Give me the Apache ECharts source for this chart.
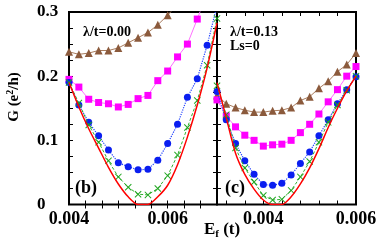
<!DOCTYPE html>
<html><head><meta charset="utf-8">
<script src="https://cdn.jsdelivr.net/npm/echarts@6/dist/echarts.min.js"></script>
<style>html,body{margin:0;padding:0;background:#fff}#c{width:382px;height:245px}</style>
</head><body><div id="c"></div>
<script>
// Panel (b): lambda/t = 0.00
const xLeft = [0.004,0.0042,0.0044,0.0046,0.0048,0.005,0.0052,0.0054,0.0056,0.0058,0.006,0.0062,0.0064,0.0066,0.0068,0.007];
const bBrown   = [0.238,0.234,0.236,0.240,0.240,0.244,0.252,0.260,0.268,0.280,0.295,0.312,null,null,null,null];
const bMagenta = [0.195,0.183,0.164,0.159,0.157,0.152,0.156,0.165,0.170,0.193,0.208,0.230,0.250,0.289,0.330,null];
const bBlue    = [0.190,0.155,0.128,0.107,0.085,0.065,0.059,0.054,0.055,0.069,0.095,0.125,0.167,0.196,0.248,0.310];
const bGreen   = [0.190,0.158,0.124,0.097,0.068,0.043,0.027,0.016,0.015,0.025,0.045,0.077,0.120,0.162,0.217,0.290];
const bRed     = [0.190,0.152,0.118,0.088,0.058,0.032,0.012,0.000,0.000,0.012,0.030,0.062,0.105,0.155,0.213,0.283];
// Panel (c): lambda/t = 0.13, Ls = 0
const xRight = [0.003,0.0032,0.0034,0.0036,0.0038,0.004,0.0042,0.0044,0.0046,0.0048,0.005,0.0052,0.0054,0.0056,0.0058,0.006];
const cBrown   = [0.170,0.157,0.151,0.147,0.144,0.144,0.146,0.147,0.151,0.162,0.168,0.181,0.192,0.207,0.218,0.236];
const cMagenta = [0.163,0.138,0.121,0.108,0.100,0.091,0.093,0.094,0.100,0.112,0.125,0.141,0.160,0.179,0.200,0.215];
const cBlue    = [0.176,0.132,0.095,0.068,0.047,0.031,0.030,0.033,0.046,0.064,0.082,0.107,0.132,0.157,0.179,0.199];
const cGreen   = [0.185,0.140,0.088,0.057,0.035,0.014,0.007,0.008,0.022,0.043,0.067,0.097,0.128,0.155,0.178,0.200];
const cRed     = [0.190,0.135,0.080,0.047,0.024,0.007,0.000,0.000,0.012,0.032,0.057,0.087,0.120,0.150,0.177,0.200];
// Tick labels
const yTicks = [0, 0.1, 0.2, 0.3];
const xLabelsLeft = [0.004, 0.006];
const xLabelsRight = [0.004, 0.006];
const xMinorLeft = [0.004333,0.004667,0.005,0.005333,0.005667,0.006,0.006333,0.006667];
const xMinorRight = [0.0032,0.0036,0.004,0.0044,0.0048,0.0052,0.0056];
const yMinor = [0.025,0.05,0.075,0.1,0.125,0.15,0.175,0.2,0.225,0.25,0.275];

const FONT = 'Liberation Serif';
const pair = (xs, ys) => xs.map((x, i) => [x, ys[i]]);
const XSYM = 'path://M0,1L1,0L5,4L9,0L10,1L6,5L10,9L9,10L5,6L1,10L0,9L4,5Z';

const styles = [
  {sym:'triangle', size:8, color:'#8B5A3C', line:'#A87C5E', type:'solid', w:1, smooth:false},
  {sym:'rect', size:7, color:'#FF00FF', line:'#FF70FF', type:'solid', w:1, smooth:false},
  {sym:'circle', size:7, color:'#0A1EF0', line:'#2040FF', type:'dotted', w:1.2, smooth:false},
  {sym:XSYM, size:7, color:'#1FA51F', line:'#30B030', type:[3,2], w:1, smooth:false},
  {sym:'none', size:0, color:'#FF0000', line:'#FF0000', type:'solid', w:1.5, smooth:0.25}
];
const leftData = [bBrown,bMagenta,bBlue,bGreen,bRed];
const rightData = [cBrown,cMagenta,cBlue,cGreen,cRed];

const series = [];
function addSeries(xs, datas, xi, yi) {
  datas.forEach((d, k) => {
    const s = styles[k];
    series.push({
      type:'line', xAxisIndex:xi, yAxisIndex:yi, data: pair(xs, d),
      symbol: s.sym, symbolSize: s.size, showSymbol: s.sym !== 'none', smooth: s.smooth,
      itemStyle:{color:s.color}, lineStyle:{color:s.line, type:s.type, width:s.w},
      connectNulls:false, clip:true, z: 2 + k
    });
  });
}
addSeries(xLeft, leftData, 0, 0);
addSeries(xRight, rightData, 2, 2);

const tickStyle = {show:true, inside:true, length:4, lineStyle:{color:'#000', width:1}};
const labelFont = {fontFamily:FONT, fontWeight:'bold', color:'#000'};

function xAx(grid, min, max, pos, labels, minor) {
  return {
    type:'value', gridIndex:grid, min:min, max:max, position:pos,
    axisLine:{show:false}, splitLine:{show:false},
    axisTick:Object.assign({}, tickStyle, {customValues: minor}),
    axisLabel: labels ? Object.assign({}, labelFont, {fontSize:18, customValues: labels, margin:6,
      hideOverlap:false, formatter: v => v.toFixed(3)}) : {show:false}
  };
}
function yAx(grid, pos, withLabels) {
  return {
    type:'value', gridIndex:grid, min:0, max:0.3, interval:0.1, position:pos,
    axisLine:{show:false}, splitLine:{show:false},
    axisTick:Object.assign({}, tickStyle, {customValues: yMinor}),
    axisLabel: withLabels ? Object.assign({}, labelFont, {fontSize:17, customValues: yTicks, align:'left', margin:32,
      formatter: v => (v === 0 ? '0' : v.toFixed(1))}) : {show:false}
  };
}

const chart = echarts.init(document.getElementById('c'), null, {renderer:'canvas'});
chart.setOption({
  animation:false,
  backgroundColor:'#fff',
  grid:[
    {left:69, top:12, width:148, height:192.5, show:true, borderColor:'#000', borderWidth:2, backgroundColor:'transparent', containLabel:false, outerBoundsMode:'none'},
    {left:217, top:12, width:139, height:192.5, show:true, borderColor:'#000', borderWidth:2, backgroundColor:'transparent', containLabel:false, outerBoundsMode:'none'}
  ],
  xAxis:[
    xAx(0, 0.004, 0.007, 'bottom', xLabelsLeft, xMinorLeft),
    xAx(0, 0.004, 0.007, 'top', null, xMinorLeft),
    xAx(1, 0.003, 0.006, 'bottom', xLabelsRight, xMinorRight),
    xAx(1, 0.003, 0.006, 'top', null, xMinorRight)
  ],
  yAxis:[
    yAx(0, 'left', true),
    yAx(0, 'right', false),
    yAx(1, 'left', false)
  ],
  series: series,
  graphic:[
    {type:'text', x:14, y:97, rotation:Math.PI/2, z:100, style:{
      text:'{a|G (e}{s|2}{a|/h)}', align:'center', verticalAlign:'middle',
      rich:{a:{fontFamily:FONT, fontWeight:'bold', fontSize:15, fill:'#000', lineHeight:18},
            s:{fontFamily:FONT, fontWeight:'bold', fontSize:10, fill:'#000', verticalAlign:'top', lineHeight:18}}}},
    {type:'text', x:222, y:230, z:100, style:{
      text:'{a|E}{f|f}{a| (t)}', align:'center', verticalAlign:'middle',
      rich:{a:{fontFamily:FONT, fontWeight:'bold', fontSize:17, fill:'#000', lineHeight:20},
            f:{fontFamily:FONT, fontWeight:'bold', fontSize:11, fill:'#000', verticalAlign:'bottom', lineHeight:20, padding:[6,0,0,0]}}}},
    {type:'text', x:83, y:32, z:100, style:{text:'λ/t=0.00', fontFamily:FONT, fontWeight:'bold', fontSize:14, fill:'#000', verticalAlign:'middle'}},
    {type:'text', x:75, y:188, z:100, style:{text:'(b)', fontFamily:FONT, fontWeight:'bold', fontSize:18, fill:'#000', verticalAlign:'middle'}},
    {type:'text', x:230, y:32, z:100, style:{text:'λ/t=0.13', fontFamily:FONT, fontWeight:'bold', fontSize:14, fill:'#000', verticalAlign:'middle'}},
    {type:'text', x:230, y:46, z:100, style:{text:'Ls=0', fontFamily:FONT, fontWeight:'bold', fontSize:14, fill:'#000', verticalAlign:'middle'}},
    {type:'text', x:225, y:188, z:100, style:{text:'(c)', fontFamily:FONT, fontWeight:'bold', fontSize:18, fill:'#000', verticalAlign:'middle'}}
  ]
});
</script>
</body></html>
